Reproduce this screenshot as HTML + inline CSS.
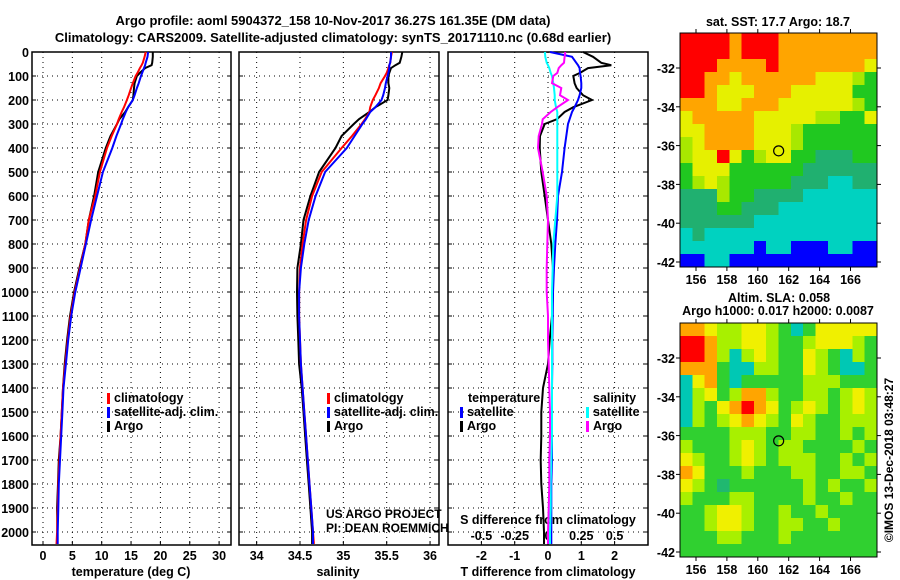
<!DOCTYPE html>
<html><head><meta charset="utf-8"><style>
body{margin:0;background:#fff}
svg{display:block;font-family:"Liberation Sans",sans-serif}
.t{font-weight:bold;font-size:13px}
.tk{font-weight:bold;font-size:12.5px}
.g{stroke:#000;stroke-width:1;stroke-dasharray:1 4}
</style></head><body>
<svg id="c" width="900" height="580" viewBox="0 0 900 580" xmlns="http://www.w3.org/2000/svg">
<text class="t" x="333" y="25" text-anchor="middle">Argo profile: aoml 5904372_158 10-Nov-2017 36.27S 161.35E (DM data)</text>
<text class="t" x="333" y="42" text-anchor="middle">Climatology: CARS2009. Satellite-adjusted climatology: synTS_20171110.nc (0.68d earlier)</text>
<g id="p"></g>
</svg>
<script>
// ---- data ----
const depth=[0,20,45,55,67,87,100,130,150,180,200,230,250,280,300,350,400,500,600,700,800,900,1000,1100,1200,1300,1400,1500,1600,1700,1800,1900,2000,2050];
const tempClim=[17.5,17.3,17.0,16.8,16.5,16.1,15.8,15.3,15.0,14.6,14.3,13.8,13.4,12.9,12.6,11.7,10.9,9.7,8.9,7.8,7.2,6.3,5.4,4.7,4.2,3.8,3.4,3.2,3.0,2.8,2.6,2.5,2.4,2.3];
const tempSat=[17.9,17.8,17.5,17.4,17.2,16.9,16.7,16.3,16.0,15.6,15.3,14.5,14.1,13.6,13.3,12.5,11.8,10.2,9.2,8.2,7.3,6.4,5.5,4.8,4.3,3.9,3.5,3.3,3.1,2.9,2.7,2.6,2.5,2.5];
const tempArgo=[18.7,18.7,18.6,18.5,17.4,16.5,16.0,15.6,15.5,15.4,15.3,14.5,14.0,13.0,12.6,11.5,10.7,9.4,8.7,7.8,7.2,6.2,5.3,4.6,4.1,3.7,3.4,3.2,3.0,2.7,2.55,2.4,2.45,2.45];
const salClim=[35.56,35.55,35.54,35.53,35.52,35.50,35.48,35.43,35.41,35.37,35.34,35.31,35.30,35.25,35.21,35.10,34.98,34.75,34.64,34.57,34.53,34.50,34.49,34.49,34.50,34.51,34.53,34.55,34.57,34.59,34.61,34.63,34.65,34.66];
const salSat=[35.55,35.55,35.54,35.53,35.53,35.52,35.51,35.49,35.48,35.46,35.44,35.37,35.31,35.26,35.22,35.13,35.04,34.79,34.68,34.60,34.55,34.51,34.49,34.49,34.50,34.51,34.53,34.55,34.57,34.59,34.61,34.63,34.65,34.65];
const salArgo=[35.68,35.67,35.65,35.60,35.55,35.53,35.52,35.52,35.53,35.52,35.51,35.37,35.30,35.18,35.12,34.98,34.91,34.72,34.62,34.54,34.51,34.47,34.465,34.47,34.48,34.49,34.52,34.54,34.56,34.58,34.60,34.62,34.64,34.64];
const dTsat=[0.06,0.72,0.85,0.9,0.95,0.96,0.98,1.0,1.0,0.95,0.9,0.8,0.72,0.65,0.6,0.55,0.5,0.42,0.3,0.27,0.22,0.18,0.15,0.14,0.13,0.13,0.12,0.12,0.12,0.12,0.1,0.1,0.1,0.1];
const dTargo=[1.05,1.35,1.6,1.9,1.2,0.96,0.76,0.8,0.86,1.05,1.32,0.76,0.5,0.27,-0.1,-0.24,-0.25,-0.2,-0.1,0.0,0.1,0.15,0.15,0.12,0.05,0.0,-0.15,-0.2,-0.2,-0.22,-0.2,-0.15,-0.12,-0.12];
const dSsat=[-0.023,-0.02,-0.01,0.0,0.01,0.02,0.03,0.04,0.045,0.05,0.05,0.06,0.07,0.07,0.07,0.07,0.07,0.07,0.07,0.055,0.04,0.035,0.03,0.03,0.03,0.03,0.03,0.03,0.03,0.025,0.02,0.02,0.015,0.015];
const dSargo=[0.13,0.125,0.12,0.10,0.08,0.07,0.04,0.03,0.1,0.09,0.15,0.07,0.02,-0.04,-0.045,-0.07,-0.075,-0.04,-0.01,0.0,-0.005,-0.01,-0.01,0.0,0.0,0.005,0.01,0.015,0.015,0.01,0.01,0.005,0.0,0.0];
const depthTicks=[0,100,200,300,400,500,600,700,800,900,1000,1100,1200,1300,1400,1500,1600,1700,1800,1900,2000];
const tempTicks=[0,5,10,15,20,25,30];
const salTicks=[34,34.5,35,35.5,36];
const salTickLabels=["34","34.5","35","35.5","36"];
const dTTicks=[-2,-1,0,1,2];
const dSTicks=[-0.5,-0.25,0,0.25,0.5];
const dSTickLabels=["-0.5","-0.25","0","0.25","0.5"];
const lonTicks=[156,158,160,162,164,166];
const latTicks=[-32,-34,-36,-38,-40,-42];
const sstGrid=["RRRRORRROOOOOOOO","RRRRORRROOOOOOOO","RRROOOOROOOOOOOY","RROOYOOOOOOYYYLG","RROYYYOOOYYYYYGG","OOOYYOOOYYYYYYLG","YOOOOOYYYYYLLGGY","YYOOOOYYYLGGGGGG","LYOOOOYYYLGGGGGG","LYYRYGLYYGGDDDGG","GYYYGGGGGGDDDDDD","GLYLGGGGGDDDCCDD","DDDLGGDDDDCCCCCC","DDDGGDDDCCCCCCCC","DDDDDDCCCCCCCCCC","CDCCCCCCCCCCCCCC","CCCCCCBCCBBBCCBB","BBCCBBBBBBBBBBBB"];
const slaGrid=["OOYLLYYLGCGYYYYY","RROLLYYLGGLYYYLG","RROLCLYLGGYLGCLG","OOOGCCLLGGYLGCCG","CYOGCGGGGGLLLGGG","CLYGLOOLGGLLGLYL","CLGYOROYGLYLGLYL","CLGLYOYLGYLGGLLL","GGGGLLLGGLLGGLGL","LGGGLYLGLLGGGGLG","YLGGLYLGLLLGGLGL","OYGGGLGGGLLGGLLG","YLGDGGGGGGLGLGGL","LGGGLLGGGGLGGLGG","GGLYYLGGLGGLGGGG","GGLYYLGGLLGGLGGG","GGGLLGGGLGGGGGGG","GGGGGGGGGGGGGGGG"];
const argoLon=161.35, argoLat=-36.27;

const NS="http://www.w3.org/2000/svg";
const P=document.getElementById('p');
function mk(tag,at,txt,parent){const e=document.createElementNS(NS,tag);for(const k in at)e.setAttribute(k,at[k]);if(txt!==undefined)e.textContent=txt;(parent||P).appendChild(e);return e;}
const Y0=52,Y1=545;
const yD=d=>Y0+d*0.24;
const xT=t=>43+t*5.87;
const xS=s=>300+(s-34.5)*86.7;
const xDT=t=>548+t*33.3;
const xDS=s=>548+s*133.2;

function panel(x0,x1,name){
  const r=mk('rect',{x:x0,y:Y0,width:x1-x0,height:Y1-Y0,fill:'none',stroke:'#000','stroke-width':1.5});
  
  
  depthTicks.forEach(d=>{if(d===0)return;const l=mk('line',{x1:x0,x2:x1,y1:yD(d),y2:yD(d),class:'g'});
    
    
    mk('line',{x1:x0,x2:x0+4,y1:yD(d),y2:yD(d),stroke:'#000'});mk('line',{x1:x1-4,x2:x1,y1:yD(d),y2:yD(d),stroke:'#000'});});
}
function vgrid(ticks,fx,name){ticks.forEach(v=>{const l=mk('line',{x1:fx(v),x2:fx(v),y1:Y0,y2:Y1,class:'g'});
  
  
  mk('line',{x1:fx(v),x2:fx(v),y1:Y1-4,y2:Y1,stroke:'#000'});});}
function line(vals,fx,color,name,w){const pts=vals.map((v,i)=>fx(v).toFixed(1)+','+yD(depth[i]).toFixed(1)).join(' ');
  const e=mk('polyline',{points:pts,fill:'none',stroke:color,'stroke-width':w||2});
  
  }
function txt(x,y,s,anchor,cls,name,extra){const e=mk('text',Object.assign({x:x,y:y,'text-anchor':anchor||'start',class:cls||'tk'},extra||{}),s);
  
  return e;}
function legend(x,y,items,name){items.forEach((it,i)=>{mk('rect',{x:x,y:y+i*14-9,width:3,height:11,fill:it[1]});
  txt(x+7,y+i*14,it[0],'start','tk',name+'-entry');});}

// Panel 1: temperature
panel(32,231,'temperature-panel');
vgrid(tempTicks,xT,'temperature-panel');
depthTicks.forEach(d=>txt(29,yD(d)+5,String(d),'end','tk','depth-tick-label'));
tempTicks.forEach(t=>txt(xT(t),560,String(t),'middle','tk','temperature-tick-label'));
txt(131,576,'temperature (deg C)','middle','tk','temperature-axis-title');
line(tempArgo,xT,'#000','temperature-argo-line');
line(tempClim,xT,'#f00','temperature-climatology-line');
line(tempSat,xT,'#00f','temperature-satellite-line');
legend(107,402,[['climatology','#f00'],['satellite-adj. clim.','#00f'],['Argo','#000']],'temperature-legend');

// Panel 2: salinity
panel(239,439,'salinity-panel');
vgrid(salTicks,xS,'salinity-panel');
salTicks.forEach((s,i)=>txt(xS(s),560,salTickLabels[i],'middle','tk','salinity-tick-label'));
txt(338,576,'salinity','middle','tk','salinity-axis-title');
line(salArgo,xS,'#000','salinity-argo-line');
line(salClim,xS,'#f00','salinity-climatology-line');
line(salSat,xS,'#00f','salinity-satellite-line');
legend(327,402,[['climatology','#f00'],['satellite-adj. clim.','#00f'],['Argo','#000']],'salinity-legend');
txt(326,518,'US ARGO PROJECT','start','','project-credit',{style:'font-size:12px'});
txt(326,532,'PI: DEAN ROEMMICH','start','','pi-credit',{style:'font-size:12px'});

// Panel 3: differences
panel(448,648,'difference-panel');
vgrid(dTTicks,xDT,'difference-panel');
dTTicks.forEach(t=>txt(xDT(t),560,String(t),'middle','tk','t-difference-tick-label'));
dSTicks.forEach((s,i)=>txt(xDS(s),540,dSTickLabels[i],'middle','tk','s-difference-tick-label'));
txt(548,524,'S difference from climatology','middle','tk','s-difference-axis-title');
txt(548,576,'T difference from climatology','middle','tk','t-difference-axis-title');
line(dTargo,xDT,'#000','t-difference-argo-line');
line(dTsat,xDT,'#00f','t-difference-satellite-line');
line(dSsat,xDS,'#0ff','s-difference-satellite-line');
line(dSargo,xDS,'#f0f','s-difference-argo-line');
txt(468,402,'temperature','start','tk','difference-legend-temperature-header');
legend(460,416,[['satellite','#00f'],['Argo','#000']],'difference-legend-temperature');
txt(593,402,'salinity','start','tk','difference-legend-salinity-header');
legend(586,416,[['satellite','#0ff'],['Argo','#f0f']],'difference-legend-salinity');

// Maps
const MX0=680,MX1=877;
const lonX=l=>696+(l-156)*15.45;
const cmap1={R:'#ff0000',O:'#ffa500',Y:'#e6f000',L:'#a8e800',G:'#20c820',D:'#20b070',C:'#00d2c0',B:'#0000ff'};
const cmap2={R:'#ff0000',O:'#ffa500',Y:'#f0f000',L:'#a8f000',G:'#30d030',D:'#20b870',C:'#00c8b4',B:'#0000ff'};
function map(yTop,yBot,latY,grid,cmap,name){
  const rows=grid.length,cols=grid[0].length,cw=(MX1-MX0)/cols,ch=(yBot-yTop)/rows;
  grid.forEach((row,r)=>{[...row].forEach((c,k)=>{const e=mk('rect',{x:MX0+k*cw,y:yTop+r*ch,width:cw+0.5,height:ch+0.5,fill:cmap[c],'shape-rendering':'crispEdges'});
    
    });});
  const f=mk('rect',{x:MX0,y:yTop,width:MX1-MX0,height:yBot-yTop,fill:'none',stroke:'#000','stroke-width':1});
  
  
  lonTicks.forEach(l=>{mk('line',{x1:lonX(l),x2:lonX(l),y1:yBot,y2:yBot+4,stroke:'#000'});mk('line',{x1:lonX(l),x2:lonX(l),y1:yTop-4,y2:yTop,stroke:'#000'});
    txt(lonX(l),yBot+17,String(l),'middle','tk',name+'-lon-tick-label');});
  latTicks.forEach(a=>{const y=latY(a);mk('line',{x1:MX0-4,x2:MX0,y1:y,y2:y,stroke:'#000'});mk('line',{x1:MX1,x2:MX1+4,y1:y,y2:y,stroke:'#000'});
    txt(MX0-5,y+5,String(a),'end','tk',name+'-lat-tick-label');});
  const c=mk('circle',{cx:lonX(argoLon),cy:latY(argoLat),r:5,fill:'none',stroke:'#000','stroke-width':1.2});
  
  
}
map(33,267,a=>68+(-32-a)*19.4,sstGrid,cmap1,'sst-map');
map(323,557,a=>358+(-32-a)*19.4,slaGrid,cmap2,'sla-map');
txt(778,26,'sat. SST: 17.7 Argo: 18.7','middle','tk','sst-map-title');
txt(779,302,'Altim. SLA: 0.058','middle','tk','sla-map-title');
txt(778,315,'Argo h1000: 0.017 h2000: 0.0087','middle','tk','sla-map-subtitle');
txt(0,0,'©IMOS 13-Dec-2018 03:48:27','middle','','timestamp',{style:'font-size:12px',transform:'translate(893,460) rotate(-90)'});
</script>
</body></html>
